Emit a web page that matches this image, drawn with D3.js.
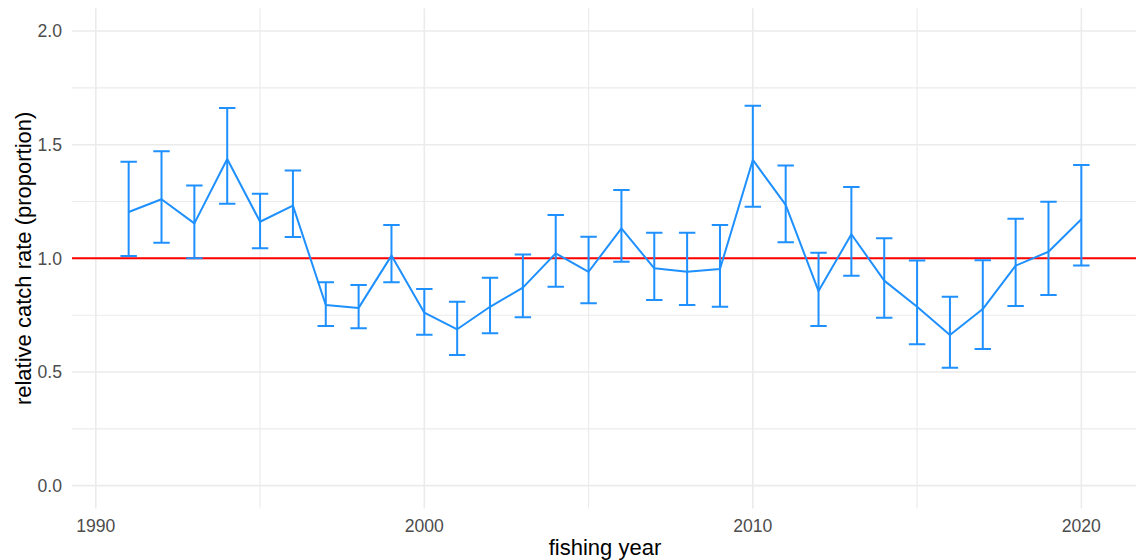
<!DOCTYPE html>
<html>
<head>
<meta charset="utf-8">
<script src="https://cdn.jsdelivr.net/npm/d3@7"></script>
<style>
  html, body { margin: 0; padding: 0; background: #fff; }
  svg { display: block; }
  text { font-family: "Liberation Sans", Arial, sans-serif; }
</style>
</head>
<body>
<svg id="chart" width="1136" height="560"></svg>
<script>
// Fishing years and standardised catch rate with its confidence bounds
const years = [1991, 1992, 1993, 1994, 1995, 1996, 1997, 1998, 1999, 2000,
               2001, 2002, 2003, 2004, 2005, 2006, 2007, 2008, 2009, 2010,
               2011, 2012, 2013, 2014, 2015, 2016, 2017, 2018, 2019, 2020];
const rate  = [1.204, 1.260, 1.154, 1.437, 1.161, 1.232, 0.795, 0.782, 1.012, 0.761,
               0.688, 0.787, 0.871, 1.022, 0.941, 1.132, 0.956, 0.941, 0.953, 1.433,
               1.235, 0.856, 1.106, 0.902, 0.787, 0.663, 0.777, 0.968, 1.029, 1.172];
const lower = [1.010, 1.069, 1.000, 1.240, 1.044, 1.094, 0.702, 0.692, 0.895, 0.664,
               0.575, 0.670, 0.741, 0.875, 0.802, 0.985, 0.817, 0.795, 0.787, 1.227,
               1.071, 0.702, 0.924, 0.739, 0.622, 0.519, 0.601, 0.790, 0.839, 0.968];
const upper = [1.425, 1.471, 1.320, 1.661, 1.284, 1.386, 0.895, 0.883, 1.147, 0.865,
               0.809, 0.915, 1.017, 1.191, 1.095, 1.301, 1.113, 1.113, 1.147, 1.671,
               1.408, 1.025, 1.314, 1.088, 0.990, 0.831, 0.992, 1.174, 1.249, 1.411];

const xMajor = [1990, 2000, 2010, 2020];
const xMinor = [1995, 2005, 2015];
const yMajor = [0, 0.5, 1, 1.5, 2];
const yMinor = [0.25, 0.75, 1.25, 1.75];
const yTickLabels = ["0.0", "0.5", "1.0", "1.5", "2.0"];
const reference = 1;

const capWidth = 0.5;   // error bar cap width, in years

const svg = d3.select("#chart");
const panel = { left: 72, right: 1138, top: 8.3, bottom: 508.4 };

const x = d3.scaleLinear().domain([1989.275, 2021.725]).range([panel.left, panel.right]);
const y = d3.scaleLinear().domain([-0.1, 2.1]).range([panel.bottom, panel.top]);

const gridColor = "#EBEBEB";
const blue = "#1E90FF";
const markWidth = 2;

// minor grid
const grid = svg.append("g");
grid.selectAll("line.ymin").data(yMinor).join("line")
  .attr("x1", panel.left).attr("x2", panel.right)
  .attr("y1", d => y(d)).attr("y2", d => y(d))
  .attr("stroke", gridColor).attr("stroke-width", 1.1);
grid.selectAll("line.xmin").data(xMinor).join("line")
  .attr("x1", d => x(d)).attr("x2", d => x(d))
  .attr("y1", panel.top).attr("y2", panel.bottom)
  .attr("stroke", gridColor).attr("stroke-width", 1.1);

// major grid
grid.selectAll("line.ymaj").data(yMajor).join("line")
  .attr("x1", panel.left).attr("x2", panel.right)
  .attr("y1", d => y(d)).attr("y2", d => y(d))
  .attr("stroke", gridColor).attr("stroke-width", 1.6);
grid.selectAll("line.xmaj").data(xMajor).join("line")
  .attr("x1", d => x(d)).attr("x2", d => x(d))
  .attr("y1", panel.top).attr("y2", panel.bottom)
  .attr("stroke", gridColor).attr("stroke-width", 1.6);

// reference line at a relative rate of 1
svg.append("line")
  .attr("x1", panel.left).attr("x2", panel.right)
  .attr("y1", y(reference)).attr("y2", y(reference))
  .attr("stroke", "#FF0000").attr("stroke-width", markWidth);

const data = years.map((yr, i) => ({ yr, v: rate[i], lo: lower[i], hi: upper[i] }));

// error bars
const eb = svg.append("g").attr("stroke", blue).attr("stroke-width", markWidth).attr("fill", "none");
eb.selectAll("path").data(data).join("path")
  .attr("d", d => {
    const x0 = x(d.yr - capWidth / 2), x1 = x(d.yr + capWidth / 2), xc = x(d.yr);
    return `M${x0},${y(d.hi)}H${x1}M${xc},${y(d.hi)}V${y(d.lo)}M${x0},${y(d.lo)}H${x1}`;
  });

// catch-rate line
svg.append("path").datum(data)
  .attr("fill", "none").attr("stroke", blue).attr("stroke-width", markWidth)
  .attr("stroke-linejoin", "round")
  .attr("d", d3.line().x(d => x(d.yr)).y(d => y(d.v)));

// axis tick labels
svg.append("g").selectAll("text").data(yMajor).join("text")
  .attr("x", 62).attr("y", d => y(d)).attr("dy", "0.36em")
  .attr("text-anchor", "end").attr("font-size", 17.6).attr("fill", "#4D4D4D")
  .text((d, i) => yTickLabels[i]);

svg.append("g").selectAll("text").data(xMajor).join("text")
  .attr("x", d => x(d)).attr("y", 532)
  .attr("text-anchor", "middle").attr("font-size", 17.6).attr("fill", "#4D4D4D")
  .text(d => d);

// axis titles
svg.append("text")
  .attr("x", (panel.left + 1136) / 2 + 1).attr("y", 555)
  .attr("text-anchor", "middle").attr("font-size", 22).attr("fill", "#000")
  .text("fishing year");

svg.append("text")
  .attr("transform", `translate(31,${(panel.top + panel.bottom) / 2}) rotate(-90)`)
  .attr("text-anchor", "middle").attr("font-size", 22).attr("fill", "#000")
  .text("relative catch rate (proportion)");
</script>
</body>
</html>
